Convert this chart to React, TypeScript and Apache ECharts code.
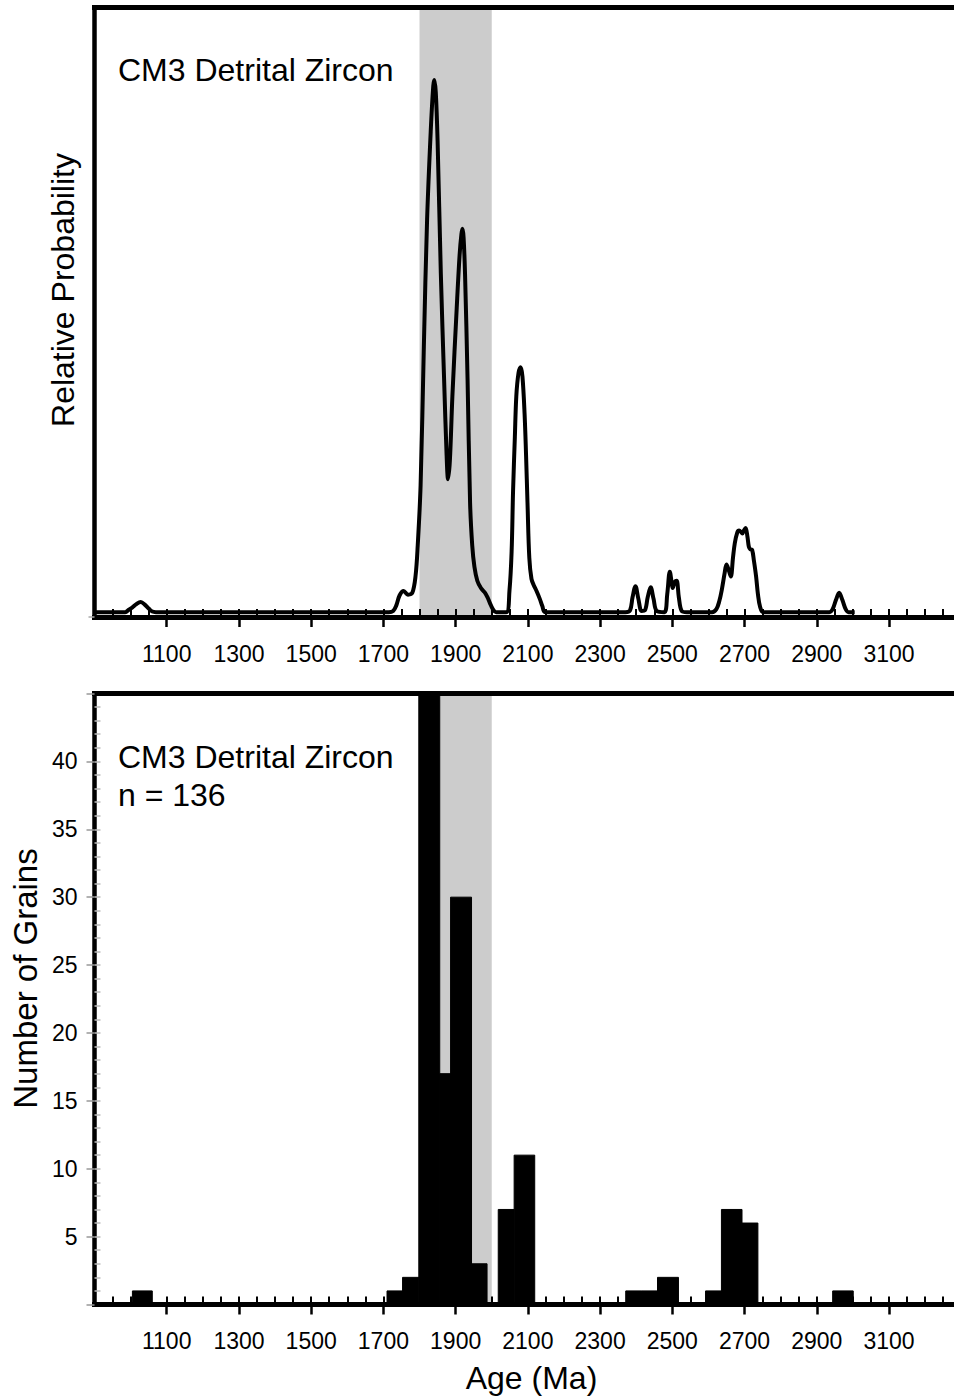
import React, { useEffect, useRef } from "react";
import * as echarts from "echarts";

// ---- Data ----
// Relative probability curve: [age (Ma), relative probability]
const PDF_POINTS: [number, number][] = [
  [900, 0], [985, 0], [995, 0.004], [1005, 0.008], [1015, 0.013], [1028, 0.017],
  [1040, 0.012], [1050, 0.006], [1060, 0.001], [1070, 0],
  [1715, 0], [1727, 0.002], [1735, 0.01], [1745, 0.028], [1756, 0.035], [1768, 0.029],
  [1780, 0.032], [1789, 0.06], [1795, 0.11], [1803, 0.21], [1812, 0.44], [1821, 0.65],
  [1831, 0.795], [1838, 0.87], [1841, 0.88], [1845, 0.86], [1850, 0.78], [1859, 0.56],
  [1868, 0.386], [1875, 0.26], [1879, 0.22], [1884, 0.25], [1891, 0.357], [1903, 0.503],
  [1911, 0.591], [1916, 0.625], [1919, 0.634], [1922, 0.62], [1926, 0.56], [1933, 0.386],
  [1940, 0.181], [1946, 0.11], [1952, 0.075], [1960, 0.052], [1970, 0.04], [1980, 0.033],
  [1988, 0.025], [1995, 0.015], [2003, 0.005], [2012, 0],
  [2040, 0], [2049, 0.035], [2055, 0.1], [2059, 0.2], [2064, 0.29], [2068, 0.357],
  [2074, 0.395], [2080, 0.405], [2085, 0.39], [2091, 0.327], [2095, 0.26], [2099, 0.181],
  [2104, 0.09], [2110, 0.055], [2116, 0.045], [2124, 0.035], [2133, 0.022], [2140, 0.01],
  [2148, 0],
  [2370, 0], [2383, 0.003], [2390, 0.025], [2398, 0.043], [2406, 0.022], [2415, 0.002],
  [2424, 0.003], [2432, 0.025], [2440, 0.041], [2448, 0.022], [2457, 0.002],
  [2478, 0], [2486, 0.03], [2493, 0.067], [2498, 0.05], [2501, 0.04], [2507, 0.05],
  [2512, 0.052], [2518, 0.025], [2526, 0.002], [2540, 0],
  [2610, 0], [2622, 0.005], [2630, 0.018], [2637, 0.037], [2645, 0.065], [2650, 0.079],
  [2656, 0.07], [2662, 0.059], [2668, 0.09], [2673, 0.114], [2680, 0.132], [2685, 0.135],
  [2690, 0.133], [2694, 0.13], [2699, 0.136], [2703, 0.139], [2708, 0.125], [2712, 0.108],
  [2716, 0.104], [2721, 0.103], [2726, 0.085], [2732, 0.059], [2737, 0.03], [2743, 0.009],
  [2752, 0],
  [2935, 0], [2944, 0.005], [2953, 0.02], [2962, 0.032], [2971, 0.02], [2980, 0.005],
  [2988, 0], [3005, 0],
];

// Histogram bins (Ma) and grain counts
const BIN_START = [1005, 1710, 1753, 1798, 1856, 1886, 1944, 2018, 2062, 2371, 2415, 2459, 2592, 2636, 2693, 2944];
const BIN_END = [1060, 1753, 1798, 1856, 1886, 1944, 1987, 2062, 2119, 2415, 2459, 2517, 2636, 2693, 2737, 3001];
const COUNTS = [1, 1, 2, 45, 17, 30, 3, 7, 11, 1, 1, 2, 1, 7, 6, 1];

// Shaded age window
const SHADE_RANGE = [1800, 2000];

// Axis ticks / labels
const X_MIN = 900;
const X_MAX = 3280;
const X_TICK_LABELS = [1100, 1300, 1500, 1700, 1900, 2100, 2300, 2500, 2700, 2900, 3100];
const X_MINOR_TICKS = Array.from({ length: 47 }, (_, i) => 950 + i * 50);
const Y_TICK_LABELS = [5, 10, 15, 20, 25, 30, 35, 40];
const Y_MAJOR_TICKS = [0, 5, 10, 15, 20, 25, 30, 35, 40, 45];
const Y_MINOR_TICKS = Array.from({ length: 44 }, (_, i) => i + 1);
const Y_MAX_COUNT = 45;
const PDF_Y_MIN = -0.008;

const TITLE = "CM3 Detrital Zircon";
const N_LABEL = "n = 136";

const FONT = '"Liberation Sans", Arial, Helvetica, sans-serif';
const TICK_FONT_SIZE = 23;
const TEXT_FONT_SIZE = 32;

function xAxes(gridIndex: number) {
  const base = {
    type: "value",
    gridIndex,
    min: X_MIN,
    max: X_MAX,
    z: 5,
    splitLine: { show: false },
    axisLine: { show: false, onZero: false },
    axisTick: { show: false },
    axisLabel: { show: false },
  };
  return [
    {
      ...base,
      position: "bottom",
      axisLine: { show: true, onZero: false, lineStyle: { color: "#000", width: 5, cap: "square" } },
      axisTick: {
        show: true,
        inside: false,
        length: 10,
        customValues: X_TICK_LABELS,
        lineStyle: { color: "#000", width: 2.5 },
      },
      axisLabel: {
        show: true,
        customValues: X_TICK_LABELS,
        margin: 25,
        fontSize: TICK_FONT_SIZE,
        fontFamily: FONT,
        color: "#000",
        formatter: (v: number) => String(v),
      },
    },
    {
      ...base,
      position: "bottom",
      axisTick: {
        show: true,
        inside: true,
        length: 8,
        customValues: X_MINOR_TICKS,
        lineStyle: { color: "#000", width: 2 },
      },
    },
    {
      ...base,
      position: "top",
      axisLine: { show: true, onZero: false, lineStyle: { color: "#000", width: 5, cap: "square" } },
    },
  ];
}

export default function App() {
  const ref = useRef<HTMLDivElement>(null);

  useEffect(() => {
    if (!ref.current) return;
    const chart = echarts.init(ref.current, undefined, { renderer: "svg" });

    const textStyle = (text: string, size: number, align: string) => ({
      text,
      fontSize: size,
      fontFamily: FONT,
      fill: "#000",
      align,
      verticalAlign: "middle",
    });

    const option: any = {
      animation: false,
      backgroundColor: "#fff",
      grid: [
        { left: 94.5, right: 0, top: 7.5, height: 609.5, containLabel: false, outerBoundsMode: "none" },
        { left: 94.5, right: 0, top: 693.5, height: 611, containLabel: false, outerBoundsMode: "none" },
      ],
      xAxis: [...xAxes(0), ...xAxes(1)],
      yAxis: [
        {
          type: "value",
          gridIndex: 0,
          position: "left",
          min: PDF_Y_MIN,
          max: 1,
          z: 5,
          axisLine: { show: true, onZero: false, lineStyle: { color: "#000", width: 4.5, cap: "square" } },
          axisTick: { show: true, length: 6, customValues: [PDF_Y_MIN], lineStyle: { color: "#aaa", width: 1.5 } },
          axisLabel: { show: false },
          splitLine: { show: false },
        },
        {
          type: "value",
          gridIndex: 1,
          position: "left",
          min: 0,
          max: Y_MAX_COUNT,
          z: 5,
          axisLine: { show: true, onZero: false, lineStyle: { color: "#000", width: 4.5, cap: "square" } },
          axisTick: { show: true, inside: false, length: 8, customValues: Y_MAJOR_TICKS, lineStyle: { color: "#999", width: 1.5 } },
          axisLabel: {
            show: true,
            customValues: Y_TICK_LABELS,
            margin: 17,
            fontSize: TICK_FONT_SIZE,
            fontFamily: FONT,
            color: "#000",
          },
          splitLine: { show: false },
        },
        {
          type: "value",
          gridIndex: 1,
          position: "left",
          min: 0,
          max: Y_MAX_COUNT,
          z: 5,
          axisLine: { show: false, onZero: false },
          axisTick: { show: true, inside: true, length: 6, customValues: Y_MINOR_TICKS, lineStyle: { color: "#bbb", width: 1.5 } },
          axisLabel: { show: false },
          splitLine: { show: false },
        },
      ],
      series: [
        {
          type: "line",
          xAxisIndex: 0,
          yAxisIndex: 0,
          data: PDF_POINTS,
          symbol: "none",
          showSymbol: false,
          smooth: 0.35,
          silent: true,
          z: 3,
          lineStyle: { color: "#000", width: 4, join: "round" },
          markArea: {
            silent: true,
            z: 1,
            itemStyle: { color: "#cccccc" },
            data: [[{ xAxis: SHADE_RANGE[0] }, { xAxis: SHADE_RANGE[1] }]],
          },
        },
        {
          type: "custom",
          xAxisIndex: 3,
          yAxisIndex: 1,
          silent: true,
          z: 3,
          data: BIN_START.map((s, i) => [s, BIN_END[i], COUNTS[i]]),
          encode: { x: [0, 1], y: 2 },
          renderItem: (params: any, api: any) => {
            const p0 = api.coord([api.value(0), api.value(2)]);
            const p1 = api.coord([api.value(1), 0]);
            const cs = params.coordSys;
            const rect = echarts.graphic.clipRectByRect(
              { x: p0[0], y: p0[1], width: p1[0] - p0[0], height: p1[1] - p0[1] },
              { x: cs.x, y: cs.y, width: cs.width, height: cs.height }
            );
            return rect
              ? { type: "rect", shape: rect, style: { fill: "#000", stroke: "#000", lineWidth: 1 } }
              : null;
          },
          markArea: {
            silent: true,
            z: 1,
            itemStyle: { color: "#cccccc" },
            data: [[{ xAxis: SHADE_RANGE[0] }, { xAxis: SHADE_RANGE[1] }]],
          },
        },
      ],
      graphic: [
        { type: "text", x: 118, y: 69.5, z: 10, style: textStyle(TITLE, TEXT_FONT_SIZE, "left") },
        { type: "text", x: 118, y: 756.5, z: 10, style: textStyle(TITLE, TEXT_FONT_SIZE, "left") },
        { type: "text", x: 118, y: 794.5, z: 10, style: textStyle(N_LABEL, TEXT_FONT_SIZE, "left") },
        {
          type: "text",
          x: 63,
          y: 290,
          rotation: Math.PI / 2,
          z: 10,
          style: textStyle("Relative Probability", TEXT_FONT_SIZE, "center"),
        },
        {
          type: "text",
          x: 25,
          y: 978.5,
          rotation: Math.PI / 2,
          z: 10,
          style: textStyle("Number of Grains", 33, "center"),
        },
        { type: "text", x: 531.5, y: 1378, z: 10, style: textStyle("Age (Ma)", TEXT_FONT_SIZE, "center") },
      ],
    };

    chart.setOption(option);
    return () => chart.dispose();
  }, []);

  return (
    <div
      style={{
        position: "absolute",
        left: 0,
        top: 0,
        width: 954,
        height: 1397,
        overflow: "hidden",
        background: "#fff",
      }}
    >
      <div ref={ref} style={{ width: 954, height: 1397 }} />
    </div>
  );
}
